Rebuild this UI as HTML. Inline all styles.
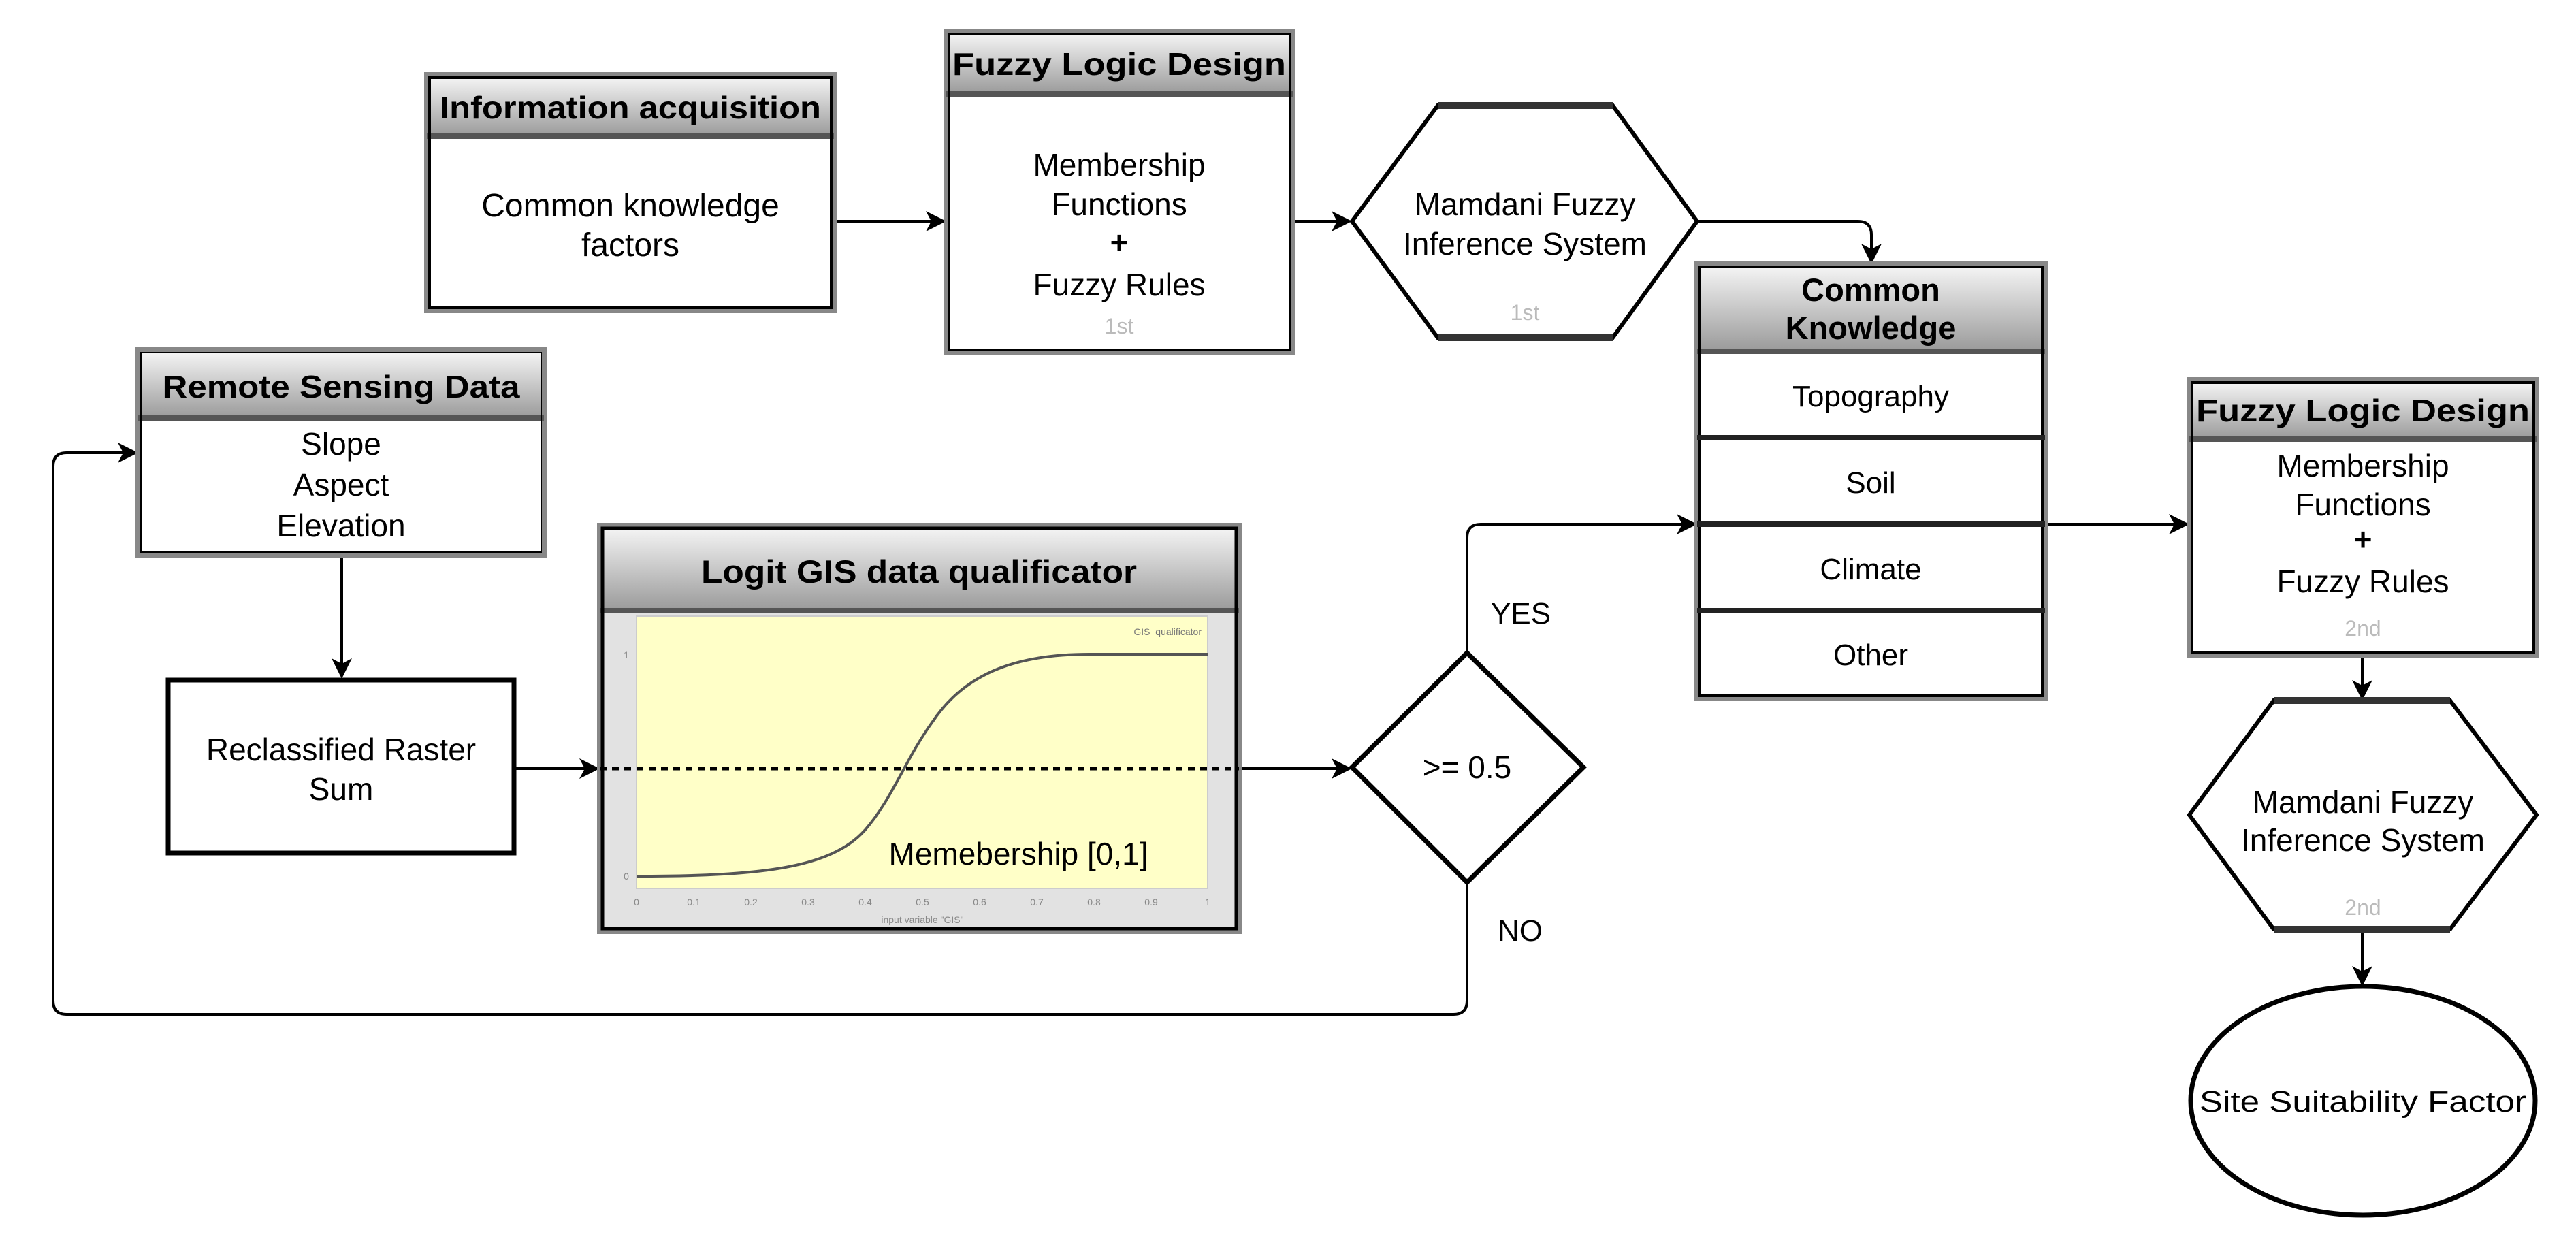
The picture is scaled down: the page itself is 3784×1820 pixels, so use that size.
<!DOCTYPE html>
<html><head><meta charset="utf-8"><style>
html,body{margin:0;padding:0;background:#fff;}
svg{display:block;}
text{font-family:"Liberation Sans",Arial,sans-serif;}
</style></head><body>
<svg width="3784" height="1820" viewBox="0 0 3784 1820" xmlns="http://www.w3.org/2000/svg">
<defs>
<linearGradient id="hg" x1="0" y1="0" x2="0" y2="1">
<stop offset="0" stop-color="#f4f4f4"/><stop offset="1" stop-color="#9a9a9a"/>
</linearGradient>
</defs>
<g stroke="#000" stroke-width="4" fill="none">
<line x1="1225" y1="325" x2="1370" y2="325"/>
<line x1="1899" y1="325" x2="1966" y2="325"/>
<path d="M2493 325 H2729 Q2749 325 2749 345 V370"/>
<line x1="502" y1="815" x2="502" y2="977"/>
<line x1="757" y1="1129" x2="862" y2="1129"/>
<line x1="1820" y1="1129" x2="1966" y2="1129"/>
<path d="M2155 959 V790 Q2155 770 2175 770 H2473"/>
<path d="M2155 1296 V1470 Q2155 1490 2135 1490 H98 Q78 1490 78 1470 V685 Q78 665 98 665 H183"/>
<line x1="3004" y1="770" x2="3196" y2="770"/>
<line x1="3470" y1="962" x2="3470" y2="1009"/>
<line x1="3470" y1="1365" x2="3470" y2="1429"/>
</g>
<g fill="#000">
<polygon points="1390,325 1360,310 1368,325 1360,340"/>
<polygon points="1986,325 1956,310 1964,325 1956,340"/>
<polygon points="2749,388 2734,358 2749,366 2764,358"/>
<polygon points="502,997 487,967 502,975 517,967"/>
<polygon points="881,1129 851,1114 859,1129 851,1144"/>
<polygon points="1986,1129 1956,1114 1964,1129 1956,1144"/>
<polygon points="2493,770 2463,755 2471,770 2463,785"/>
<polygon points="203,665 173,650 181,665 173,680"/>
<polygon points="3216,770 3186,755 3194,770 3186,785"/>
<polygon points="3470,1029 3455,999 3470,1007 3485,999"/>
<polygon points="3470,1449 3455,1419 3470,1427 3485,1419"/>
</g>

<rect x="627" y="110" width="598" height="346" fill="#fff" stroke="#888" stroke-width="8"/>
<rect x="631" y="114" width="590" height="86" fill="url(#hg)"/>
<line x1="627" y1="200" x2="1225" y2="200" stroke="#555" stroke-width="8"/>
<rect x="631" y="114" width="590" height="338" fill="none" stroke="#000" stroke-width="4"/>
<text x="926" y="174" font-size="46" font-weight="bold" text-anchor="middle" textLength="560" lengthAdjust="spacingAndGlyphs">Information acquisition</text>
<text x="926" y="318" font-size="48" text-anchor="middle">Common knowledge</text>
<text x="926" y="376" font-size="48" text-anchor="middle">factors</text>

<rect x="1390" y="46" width="509" height="472" fill="#fff" stroke="#888" stroke-width="8"/>
<rect x="1394" y="50" width="501" height="88" fill="url(#hg)"/>
<line x1="1390" y1="138" x2="1899" y2="138" stroke="#555" stroke-width="8"/>
<rect x="1394" y="50" width="501" height="464" fill="none" stroke="#000" stroke-width="4"/>
<text x="1644" y="110" font-size="46" font-weight="bold" text-anchor="middle" textLength="490" lengthAdjust="spacingAndGlyphs">Fuzzy Logic Design</text>
<text x="1644" y="258" font-size="46" text-anchor="middle">Membership</text>
<text x="1644" y="316" font-size="46" text-anchor="middle">Functions</text>
<text x="1644" y="372" font-size="46" font-weight="bold" text-anchor="middle">+</text>
<text x="1644" y="434" font-size="46" text-anchor="middle">Fuzzy Rules</text>
<text x="1644" y="490" font-size="32" fill="#bbb" text-anchor="middle">1st</text>

<polygon points="1986,325 2112,155 2369,155 2493,325 2369,496 2112,496" fill="#fff" stroke="#000" stroke-width="6"/>
<line x1="2112" y1="155" x2="2369" y2="155" stroke="#333" stroke-width="10"/>
<line x1="2112" y1="496" x2="2369" y2="496" stroke="#333" stroke-width="10"/>
<text x="2240" y="316" font-size="46" text-anchor="middle">Mamdani Fuzzy</text>
<text x="2240" y="374" font-size="46" text-anchor="middle">Inference System</text>
<text x="2240" y="470" font-size="32" fill="#bbb" text-anchor="middle">1st</text>

<rect x="2493" y="388" width="511" height="638" fill="#fff" stroke="#888" stroke-width="8"/>
<rect x="2497" y="392" width="503" height="124" fill="url(#hg)"/>
<line x1="2493" y1="516" x2="3004" y2="516" stroke="#555" stroke-width="8"/>
<rect x="2497" y="392" width="503" height="630" fill="none" stroke="#000" stroke-width="4"/>
<line x1="2493" y1="643" x2="3004" y2="643" stroke="#222" stroke-width="8"/>
<line x1="2493" y1="770" x2="3004" y2="770" stroke="#222" stroke-width="8"/>
<line x1="2493" y1="897" x2="3004" y2="897" stroke="#222" stroke-width="8"/>
<text x="2748" y="442" font-size="47" font-weight="bold" text-anchor="middle">Common</text>
<text x="2748" y="498" font-size="47" font-weight="bold" text-anchor="middle">Knowledge</text>
<text x="2748" y="597" font-size="44" text-anchor="middle">Topography</text>
<text x="2748" y="724" font-size="44" text-anchor="middle">Soil</text>
<text x="2748" y="851" font-size="44" text-anchor="middle">Climate</text>
<text x="2748" y="977" font-size="44" text-anchor="middle">Other</text>

<rect x="3216" y="558" width="510" height="404" fill="#fff" stroke="#888" stroke-width="8"/>
<rect x="3220" y="562" width="502" height="83" fill="url(#hg)"/>
<line x1="3216" y1="645" x2="3726" y2="645" stroke="#555" stroke-width="8"/>
<rect x="3220" y="562" width="502" height="396" fill="none" stroke="#000" stroke-width="4"/>
<text x="3471" y="619" font-size="46" font-weight="bold" text-anchor="middle" textLength="490" lengthAdjust="spacingAndGlyphs">Fuzzy Logic Design</text>
<text x="3471" y="700" font-size="46" text-anchor="middle">Membership</text>
<text x="3471" y="757" font-size="46" text-anchor="middle">Functions</text>
<text x="3471" y="808" font-size="46" font-weight="bold" text-anchor="middle">+</text>
<text x="3471" y="870" font-size="46" text-anchor="middle">Fuzzy Rules</text>
<text x="3471" y="934" font-size="32" fill="#bbb" text-anchor="middle">2nd</text>

<polygon points="3216,1197 3340,1029 3599,1029 3726,1197 3599,1365 3340,1365" fill="#fff" stroke="#000" stroke-width="6"/>
<line x1="3340" y1="1029" x2="3599" y2="1029" stroke="#333" stroke-width="10"/>
<line x1="3340" y1="1365" x2="3599" y2="1365" stroke="#333" stroke-width="10"/>
<text x="3471" y="1194" font-size="46" text-anchor="middle">Mamdani Fuzzy</text>
<text x="3471" y="1250" font-size="46" text-anchor="middle">Inference System</text>
<text x="3471" y="1344" font-size="32" fill="#bbb" text-anchor="middle">2nd</text>

<ellipse cx="3471" cy="1617" rx="253" ry="168" fill="#fff" stroke="#000" stroke-width="7"/>
<text x="3471" y="1633" font-size="44" text-anchor="middle" textLength="480" lengthAdjust="spacingAndGlyphs">Site Suitability Factor</text>

<rect x="203" y="514" width="596" height="301" fill="#fff" stroke="#888" stroke-width="8"/>
<rect x="207" y="518" width="588" height="96" fill="url(#hg)"/>
<line x1="203" y1="614" x2="799" y2="614" stroke="#555" stroke-width="8"/>
<rect x="207" y="518" width="588" height="293" fill="none" stroke="#000" stroke-width="2"/>
<text x="501" y="584" font-size="46" font-weight="bold" text-anchor="middle" textLength="525" lengthAdjust="spacingAndGlyphs">Remote Sensing Data</text>
<text x="501" y="668" font-size="46" text-anchor="middle">Slope</text>
<text x="501" y="728" font-size="46" text-anchor="middle">Aspect</text>
<text x="501" y="788" font-size="46" text-anchor="middle">Elevation</text>

<rect x="247" y="999" width="508" height="254" fill="#fff" stroke="#000" stroke-width="7"/>
<text x="501" y="1117" font-size="46" text-anchor="middle">Reclassified Raster</text>
<text x="501" y="1175" font-size="46" text-anchor="middle">Sum</text>

<rect x="881" y="772" width="939" height="596" fill="#e2e2e2" stroke="#888" stroke-width="8"/>
<rect x="885" y="776" width="931" height="121" fill="url(#hg)"/>
<line x1="881" y1="897" x2="1820" y2="897" stroke="#555" stroke-width="8"/>
<rect x="885" y="776" width="931" height="588" fill="none" stroke="#000" stroke-width="5"/>
<text x="1350" y="856" font-size="47" font-weight="bold" text-anchor="middle" textLength="640" lengthAdjust="spacingAndGlyphs">Logit GIS data qualificator</text>
<rect x="935" y="905" width="839" height="400" fill="#ffffc8" stroke="#ccc" stroke-width="2"/>
<path d="M935 1287 C1120 1287 1220 1275 1270 1220 C1310 1175 1330 1115 1370 1060 C1420 985 1500 961 1600 961 L1774 961" fill="none" stroke="#555" stroke-width="4"/>
<line x1="881" y1="1129" x2="1820" y2="1129" stroke="#000" stroke-width="5" stroke-dasharray="10,8"/>
<text x="1496" y="1270" font-size="46" text-anchor="middle">Memebership [0,1]</text>
<text x="1765" y="933" font-size="14" fill="#777" text-anchor="end">GIS_qualificator</text>
<g font-size="14" fill="#888" text-anchor="middle">
<text x="935" y="1330">0</text><text x="1019" y="1330">0.1</text><text x="1103" y="1330">0.2</text><text x="1187" y="1330">0.3</text><text x="1271" y="1330">0.4</text><text x="1355" y="1330">0.5</text><text x="1439" y="1330">0.6</text><text x="1523" y="1330">0.7</text><text x="1607" y="1330">0.8</text><text x="1691" y="1330">0.9</text><text x="1774" y="1330">1</text>
<text x="1355" y="1356">input variable "GIS"</text>
<text x="920" y="967">1</text><text x="920" y="1292">0</text>
</g>

<polygon points="2155,959 2326,1127 2155,1296 1986,1127" fill="#fff" stroke="#000" stroke-width="7"/>
<text x="2155" y="1143" font-size="46" text-anchor="middle">&gt;= 0.5</text>
<text x="2190" y="916" font-size="44">YES</text>
<text x="2200" y="1382" font-size="44">NO</text>
</svg>
</body></html>
